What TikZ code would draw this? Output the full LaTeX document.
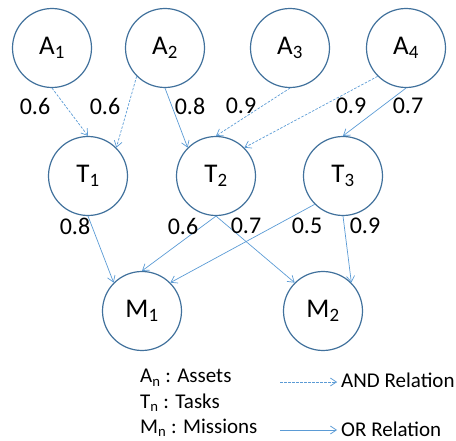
\documentclass[tikz,border=0pt]{standalone}
\usepackage{fontspec}
\setmainfont{Carlito}
\usepackage{xcolor}
\definecolor{ringblue}{RGB}{65, 113, 156}
\definecolor{linkblue}{RGB}{91, 155, 213}
\usepackage{tikz}
\usetikzlibrary{arrows.meta}

\begin{document}
\begin{tikzpicture}[x=1pt, y=-1pt,
    circ/.style={circle, draw=ringblue, line width=1.2pt, inner sep=0pt,
                 minimum size=79pt, font=\fontsize{27}{30}\selectfont},
    oredge/.style={draw=linkblue, line width=0.7pt,
                   -{Straight Barb[length=6pt, width=8pt]}},
    andedge/.style={oredge, dash pattern=on 2.5pt off 1.5pt},
    wlabel/.style={font=\fontsize{24}{28}\selectfont},
    legtext/.style={anchor=base west, inner sep=0pt, font=\fontsize{21}{24}\selectfont}]
  \useasboundingbox (0,0) rectangle (456,441);

  % assets
  \node[circ] (a1) at (52,48)  {A\textsubscript{1}};
  \node[circ] (a2) at (165,48) {A\textsubscript{2}};
  \node[circ] (a3) at (290,48) {A\textsubscript{3}};
  \node[circ] (a4) at (406,48) {A\textsubscript{4}};
  % tasks
  \node[circ] (t1) at (88,176)  {T\textsubscript{1}};
  \node[circ] (t2) at (216,176) {T\textsubscript{2}};
  \node[circ] (t3) at (343,176) {T\textsubscript{3}};
  % missions
  \node[circ] (m1) at (142,311) {M\textsubscript{1}};
  \node[circ] (m2) at (323,311) {M\textsubscript{2}};

  % assets to tasks
  \draw[andedge] (a1.south) -- (t1.north);
  \draw[andedge] (a2.225) -- (t1.45);
  \draw[oredge]  (a2.south) -- (t2.135);
  \draw[andedge] (a3.south) -- (t2.north);
  \draw[andedge] (a4.225) -- (t2.45);
  \draw[oredge]  (a4.south) -- (t3.north);
  % tasks to missions
  \draw[oredge] (t1.south) -- (m1.135);
  \draw[oredge] (t2.south) -- (m1.north);
  \draw[oredge] (t2.south) -- (m2.135);
  \draw[oredge] (t3.225) -- (m1.45);
  \draw[oredge] (t3.south) -- (m2.45);

  % weights
  \node[wlabel] (w1) at (35,106)  {0.6};
  \node[wlabel] (w2) at (105,106) {0.6};
  \node[wlabel] (w3) at (190,106) {0.8};
  \node[wlabel] (w4) at (241,106) {0.9};
  \node[wlabel] (w5) at (351,106) {0.9};
  \node[wlabel] (w6) at (408,106) {0.7};
  \node[wlabel] (w7) at (75,226)  {0.8};
  \node[wlabel] (w8) at (183,226) {0.6};
  \node[wlabel] (w9) at (246,226) {0.7};
  \node[wlabel] (w10) at (307,226) {0.5};
  \node[wlabel] (w11) at (365,226) {0.9};

  % legend
  \node[legtext] (lega) at (140,383) {A\textsubscript{n} : Assets};
  \node[legtext] (legt) at (140,408) {T\textsubscript{n} : Tasks};
  \node[legtext] (legm) at (140,433) {M\textsubscript{n} : Missions};
  \node[legtext] (legand) at (341,388) {AND Relation};
  \node[legtext] (legor) at (341,436) {OR Relation};
  \coordinate (andstart) at (280,382);
  \coordinate (orstart) at (280,430);
  \draw[andedge] (andstart) -- ([xshift=-4pt]legand.west |- andstart);
  \draw[oredge] (orstart) -- ([xshift=-4pt]legor.west |- orstart);
\end{tikzpicture}
\end{document}
